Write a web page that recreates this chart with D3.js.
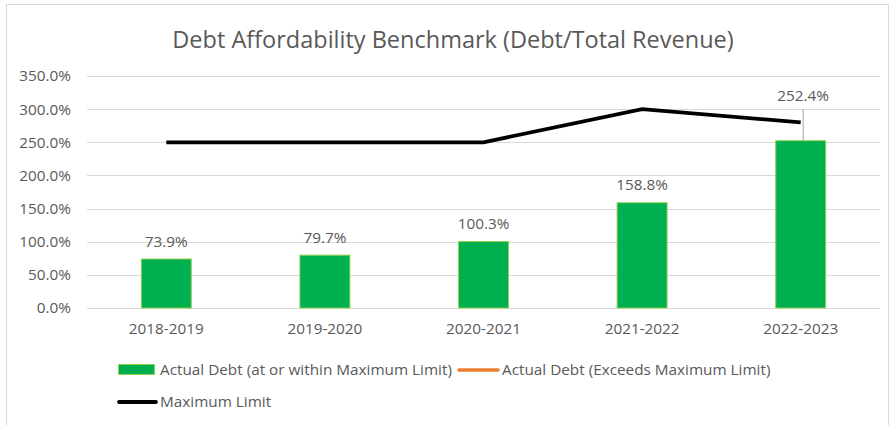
<!DOCTYPE html>
<html>
<head>
<meta charset="utf-8">
<script src="https://cdn.jsdelivr.net/npm/d3@7"></script>
<style>
  body { margin: 0; background: #fff; }
  text { font-family: "Open Sans", sans-serif; fill: #595959; }
</style>
</head>
<body>
<div id="chart"></div>
<script>
// chart data
var years = ["2018-2019", "2019-2020", "2020-2021", "2021-2022", "2022-2023"];
var actualDebt = [73.9, 79.7, 100.3, 158.8, 252.4];
var maxLimit = [250, 250, 250, 300, 280];
var yTicks = [0, 50, 100, 150, 200, 250, 300, 350];

var svgWidth = 892;
var svgHeight = 425;

var margin = { top: 76, right: 12, bottom: 117, left: 87 };
var width = svgWidth - margin.left - margin.right;
var height = svgHeight - margin.top - margin.bottom;

var fontSize = "15.3px";

var svg = d3.select("#chart")
  .append("svg")
  .attr("width", svgWidth)
  .attr("height", svgHeight);

// chart area border
svg.append("rect")
  .attr("x", 6.5)
  .attr("y", 4.5)
  .attr("width", 882)
  .attr("height", 430)
  .attr("fill", "none")
  .attr("stroke", "#d9d9d9");

// title
svg.append("text")
  .attr("x", 453)
  .attr("y", 48)
  .attr("text-anchor", "middle")
  .style("font-size", "23.5px")
  .text("Debt Affordability Benchmark (Debt/Total Revenue)");

var chartGroup = svg.append("g")
  .attr("transform", `translate(${margin.left}, ${margin.top})`);

// scales
var xScale = d3.scaleBand()
  .domain(years)
  .range([0, width])
  .paddingInner(0.685)
  .paddingOuter(0.3425);

var yScale = d3.scaleLinear()
  .domain([0, 350])
  .range([height, 0]);

// gridlines
chartGroup.selectAll("line.grid")
  .data(yTicks)
  .enter()
  .append("line")
  .classed("grid", true)
  .attr("x1", 0)
  .attr("x2", width)
  .attr("y1", d => Math.round(yScale(d)) + 0.5)
  .attr("y2", d => Math.round(yScale(d)) + 0.5)
  .attr("stroke", "#d9d9d9")
  .attr("stroke-width", 1);

// y axis
var yAxis = d3.axisLeft(yScale)
  .tickValues(yTicks)
  .tickSize(0)
  .tickPadding(16)
  .tickFormat(d => d3.format(".1f")(d) + "%");

chartGroup.append("g")
  .call(yAxis)
  .call(g => g.select(".domain").remove())
  .selectAll("text")
  .style("font-size", fontSize)
  .attr("fill", "#595959");

// x axis
var xAxis = d3.axisBottom(xScale).tickSize(0).tickPadding(15);

chartGroup.append("g")
  .attr("transform", `translate(0, ${height})`)
  .call(xAxis)
  .call(g => g.select(".domain").remove())
  .selectAll("text")
  .style("font-size", fontSize)
  .attr("fill", "#595959");

// bars
chartGroup.selectAll("rect.bar")
  .data(actualDebt)
  .enter()
  .append("rect")
  .classed("bar", true)
  .attr("x", (d, i) => xScale(years[i]))
  .attr("y", d => yScale(d))
  .attr("width", xScale.bandwidth())
  .attr("height", d => height - yScale(d))
  .attr("fill", "#00b050")
  .attr("stroke", "#92d050")
  .attr("stroke-width", 1);

// maximum limit line
var line = d3.line()
  .x((d, i) => xScale(years[i]) + xScale.bandwidth() / 2)
  .y(d => yScale(d));

chartGroup.append("path")
  .datum(maxLimit)
  .attr("d", line)
  .attr("fill", "none")
  .attr("stroke", "#000")
  .attr("stroke-width", 3.8);

// data labels (last one is pushed up with a leader line)
var lastIdx = actualDebt.length - 1;
var lastX = xScale(years[lastIdx]) + xScale.bandwidth() / 2;

chartGroup.append("line")
  .attr("x1", lastX + 2.5)
  .attr("x2", lastX + 2.5)
  .attr("y1", 109 - margin.top)
  .attr("y2", yScale(actualDebt[lastIdx]))
  .attr("stroke", "#a6a6a6")
  .attr("stroke-width", 1);

chartGroup.selectAll("text.label")
  .data(actualDebt)
  .enter()
  .append("text")
  .classed("label", true)
  .attr("x", (d, i) => xScale(years[i]) + xScale.bandwidth() / 2 + (i === lastIdx ? 2.5 : 0))
  .attr("y", (d, i) => i === lastIdx ? 101 - margin.top : yScale(d) - 12.5)
  .attr("text-anchor", "middle")
  .style("font-size", fontSize)
  .text(d => d3.format(".1f")(d) + "%");

// legend
var legend = svg.append("g");

legend.append("rect")
  .attr("x", 118.5)
  .attr("y", 364.5)
  .attr("width", 36)
  .attr("height", 10)
  .attr("fill", "#00b050")
  .attr("stroke", "#92d050");

legend.append("text")
  .attr("x", 160)
  .attr("y", 375)
  .style("font-size", fontSize)
  .text("Actual Debt (at or within Maximum Limit)");

legend.append("line")
  .attr("x1", 459)
  .attr("x2", 498)
  .attr("y1", 370)
  .attr("y2", 370)
  .attr("stroke", "#ed7d31")
  .attr("stroke-width", 3.5)
  .attr("stroke-linecap", "round");

legend.append("text")
  .attr("x", 502)
  .attr("y", 375)
  .style("font-size", fontSize)
  .text("Actual Debt (Exceeds Maximum Limit)");

legend.append("line")
  .attr("x1", 119)
  .attr("x2", 156)
  .attr("y1", 402)
  .attr("y2", 402)
  .attr("stroke", "#000")
  .attr("stroke-width", 3.8)
  .attr("stroke-linecap", "round");

legend.append("text")
  .attr("x", 160)
  .attr("y", 407)
  .style("font-size", fontSize)
  .text("Maximum Limit");
</script>
</body>
</html>
